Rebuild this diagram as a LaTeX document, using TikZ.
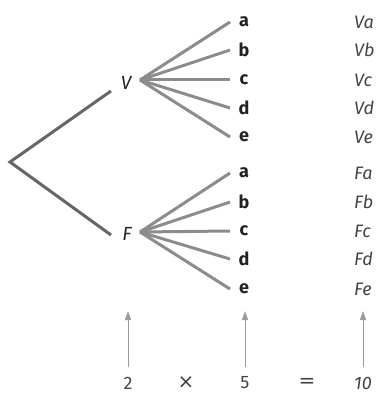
\documentclass[tikz,border=0pt]{standalone}
\usepackage{fontspec}
\setmainfont{Fira Sans}
\newfontfamily\symfont{DejaVu Sans}
\usetikzlibrary{arrows.meta}
\definecolor{trunk}{HTML}{666666}
\definecolor{fan}{HTML}{8C8C8C}
\definecolor{arr}{HTML}{9A9A9A}
\definecolor{txt}{HTML}{222222}
\tikzset{
  trunkline/.style={draw=trunk, line width=3pt},
  fanline/.style={draw=fan, line width=3pt},
  uparrow/.style={draw=arr, line width=0.9pt, -{Triangle[length=9pt,width=6pt]}},
  leaf/.style={font=\fontsize{18}{18}\selectfont\bfseries, text=txt, inner sep=0pt},
  combo/.style={font=\fontsize{18}{18}\selectfont\itshape, text=txt!85, inner sep=0pt, anchor=west},
  root/.style={font=\fontsize{19}{19}\selectfont\itshape, text=txt, inner sep=0pt},
  calc/.style={font=\fontsize{18}{18}\selectfont, text=txt!85, inner sep=0pt},
  calcsym/.style={font=\fontsize{20}{20}\selectfont\symfont\ExtraLight, text=txt!85, inner sep=0pt},
}
\providecommand\ExtraLight{}
\begin{document}
\begin{tikzpicture}[x=1pt,y=-1pt]
\useasboundingbox (0,0) rectangle (383,393);
% trunk
\coordinate (R) at (10,162);
\coordinate (Vend) at (111,91);
\coordinate (Fend) at (111,235);
\draw[trunkline, line join=miter] (Vend) -- (R) -- (Fend);
\node[root] (V) at (126,83) {V};
\node[root] (F) at (127,234) {F};
\coordinate (Vv) at (140,80);
\coordinate (Fv) at (140,232);
% V fan
\foreach \l/\y [count=\i] in {a/22,b/50,c/80,d/108,e/137}{
  \coordinate (Ve\i) at (230,\y);
  \draw[fanline] (Vv) -- (Ve\i);
  \node[leaf] (Vl\i) at (244,\y) {\l};
  \node[combo] (Vc\i) at (354,\y) {V\l};
}
\foreach \l/\y [count=\i] in {a/173,b/202,c/231,d/259,e/289}{
  \coordinate (Fe\i) at (230,\y);
  \draw[fanline] (Fv) -- (Fe\i);
  \node[leaf] (Fl\i) at (244,\y) {\l};
  \node[combo] (Fc\i) at (354,\y) {F\l};
}
% bottom
\node[calc] (n2) at (128,383) {2};
\node[calcsym] (times) at (186,383) {×};
\node[calc] (n5) at (245,383) {5};
\node[calcsym] (eq) at (307,383) {=};
\node[calc, font=\fontsize{18}{18}\selectfont\itshape] (n10) at (363,383) {10};
\coordinate (t2) at (128,367);
\coordinate (h2) at (128,311);
\coordinate (t5) at (245,367);
\coordinate (h5) at (245,311);
\coordinate (t10) at (363,367);
\coordinate (h10) at (363,311);
\draw[uparrow] (t2) -- (h2);
\draw[uparrow] (t5) -- (h5);
\draw[uparrow] (t10) -- (h10);
\end{tikzpicture}
\end{document}
